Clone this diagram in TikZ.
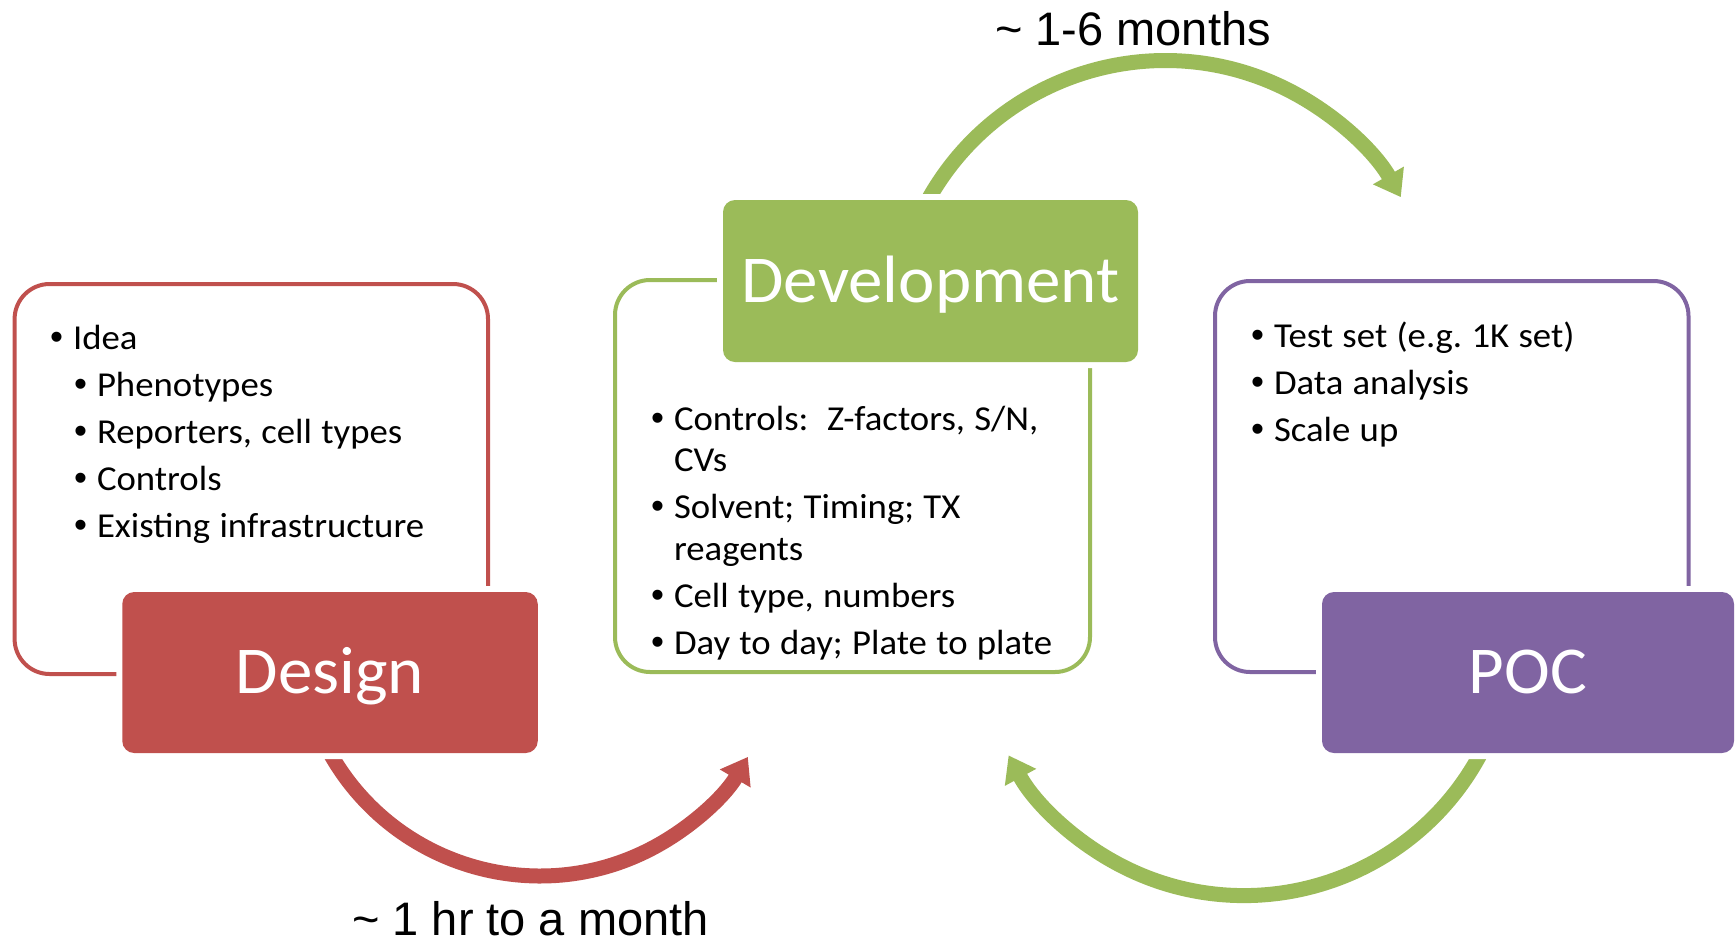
\documentclass[tikz,border=0pt]{standalone}
\usepackage{fontspec}
\setmainfont{Carlito}
\newfontfamily\arialf{Liberation Sans}
\newfontfamily\listfont{Carlito}[FakeStretch=1.05]
\newfontfamily\titlefont{Carlito}[FakeStretch=1.03]
\usetikzlibrary{arrows.meta}
\definecolor{cred}{HTML}{C0504D}
\definecolor{cgreen}{HTML}{9BBB59}
\definecolor{cpurple}{HTML}{8064A2}
\newcommand{\bitem}[2][0pt]{\hangindent=\dimexpr#1+23pt\relax\hangafter=1\hspace*{#1}\makebox[23pt][l]{{\arialf\fontsize{37}{37}\selectfont •}}#2\par}
\newcommand{\listsetup}{\setlength\parskip{5.5pt}\spaceskip=9.3pt plus 2pt minus 1pt\relax}
\tikzset{
  outerbox/.style={draw=#1, line width=4pt, fill=white, rounded corners=35pt,
    rectangle, anchor=north west, outer sep=0pt, inner sep=0pt},
  fillbox/.style={fill=#1, rounded corners=12pt, rectangle, outer sep=0pt, inner sep=0pt,
    preaction={draw=white, line width=12pt},
    text=white, font=\titlefont\fontsize{67}{70}\selectfont, text height=42pt, text depth=0pt},
  bulletlist/.style={anchor=base west, inner sep=0pt, outer sep=0pt, text width=440pt,
    align=left, font=\listfont\fontsize{35}{41.5}\selectfont\frenchspacing},
  cyclearrow/.style={draw=#1, line width=15pt, -{Triangle[length=25pt,width=34pt]}},
  timelabel/.style={anchor=base west, inner sep=0pt, font=\arialf\fontsize{47}{50}\selectfont}
}
\begin{document}
\begin{tikzpicture}[x=1pt,y=-1pt]
\useasboundingbox (0,0) rectangle (1735,943);

% outer boxes
\node[outerbox=cred, minimum width=473.4pt, minimum height=390pt] (designOuter) at (14.6,284) {};
\node[outerbox=cgreen, minimum width=475pt, minimum height=392pt] (devOuter) at (615,280) {};
\node[outerbox=cpurple, minimum width=473.5pt, minimum height=391pt] (pocOuter) at (1215,281) {};

% lists
\node[bulletlist] (designList) at (50,349) {\listsetup%
\bitem{Idea}%
\bitem[24pt]{Phenotypes}%
\bitem[24pt]{Reporters, cell types}%
\bitem[24pt]{Controls}%
\bitem[24pt]{Existing infrastructure}};

\node[bulletlist] (devList) at (651,430) {\listsetup%
\bitem{Controls:\ \ Z-factors, S/N,\newline CVs}%
\bitem{Solvent; Timing; TX\newline reagents}%
\bitem{Cell type, numbers}%
\bitem{Day to day; Plate to plate}};

\node[bulletlist] (pocList) at (1251,347) {\listsetup%
\bitem{Test set (e.g. 1K set)}%
\bitem{Data analysis}%
\bitem{Scale up}};

% arrows (behind the filled boxes)
\coordinate (a1s) at (923.3,208.8);
\draw[cyclearrow=cgreen] (a1s) arc[start angle=207, end angle=330.2, radius=271.5];
\coordinate (a2s) at (327.2,748.1);
\draw[cyclearrow=cred] (a2s) arc[start angle=152, end angle=30.4, radius=241];
\coordinate (a3s) at (1482.9,749.2);
\draw[cyclearrow=cgreen] (a3s) arc[start angle=27, end angle=151.5, radius=268];

% filled title boxes
\node[fillbox=cred, minimum width=415.5pt, minimum height=161pt] (design) at (330,672.5) {Design};
\node[fillbox=cgreen, minimum width=415pt, minimum height=162pt] (dev) at (930.5,281) {Development};
\node[fillbox=cpurple, minimum width=412pt, minimum height=161pt] (poc) at (1528,672.5) {POC};

% time labels
\node[timelabel] (t1) at (995,45) {\textasciitilde{} 1-6 months};
\node[timelabel] (t2) at (352,935) {\textasciitilde{} 1 hr to a month};
\end{tikzpicture}
\end{document}
